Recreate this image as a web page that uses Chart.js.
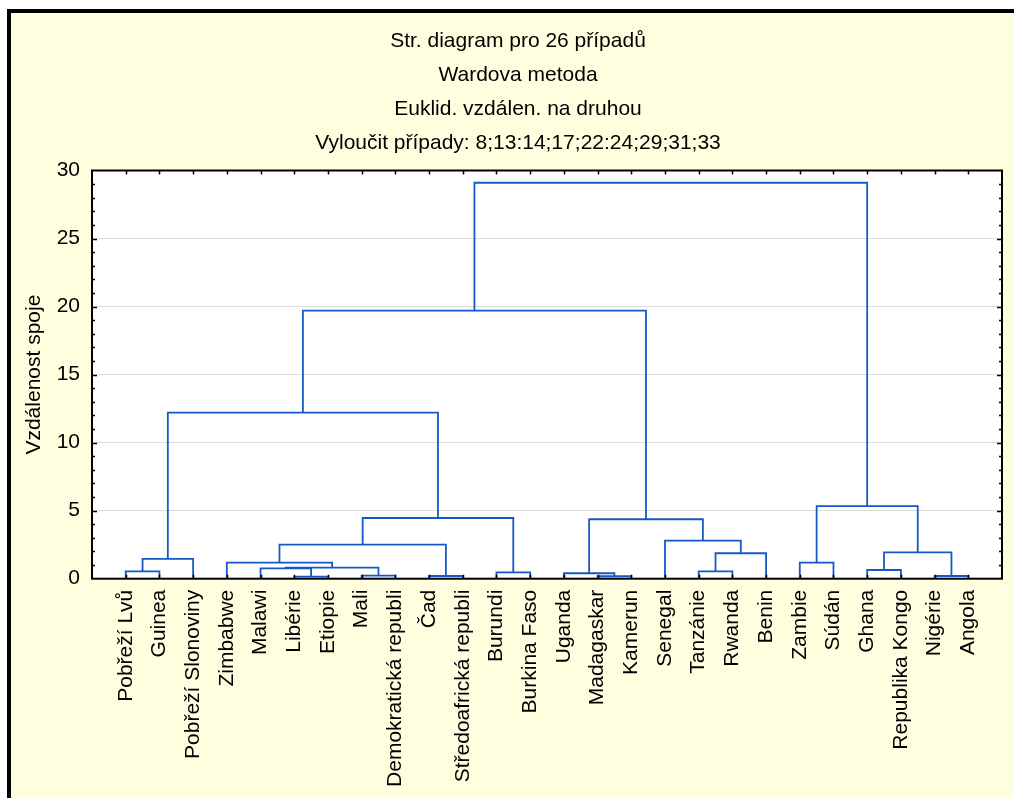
<!DOCTYPE html>
<html>
<head>
<meta charset="utf-8">
<script src="https://cdn.jsdelivr.net/npm/chart.js@4.4.1/dist/chart.umd.min.js"></script>
<style>
  body { margin: 0; background: #fff; overflow: hidden; }
  #frame { position: absolute; left: 7px; top: 9px; width: 1100px; height: 900px;
           border: 4px solid #000; background: #FFFFE0; }
  #dendro { position: absolute; left: 0; top: 0; }
</style>
</head>
<body>
<div id="frame"></div>
<canvas id="dendro" width="1014" height="798"></canvas>
<script>
const titleLines = [
    'Str. diagram pro 26 případů',
    'Wardova metoda',
    'Euklid. vzdálen. na druhou',
    'Vyloučit případy: 8;13:14;17;22:24;29;31;33'
];
const yAxisTitle = 'Vzdálenost spoje';
const yTicks = [0, 5, 10, 15, 20, 25, 30];

//leaf order as drawn left to right
const leafLabels = [
    'Pobřeží Lvů', 'Guinea', 'Pobřeží Slonoviny', 'Zimbabwe', 'Malawi', 'Libérie',
    'Etiopie', 'Mali', 'Demokratická republi', 'Čad', 'Středoafrická republi',
    'Burundi', 'Burkina Faso', 'Uganda', 'Madagaskar', 'Kamerun', 'Senegal',
    'Tanzánie', 'Rwanda', 'Benin', 'Zambie', 'Súdán', 'Ghana', 'Republika Kongo',
    'Nigérie', 'Angola'
];

//linkage: ids 0-25 are leaves, merge k gets id 26+k
const mergeLeft   = [5, 9, 14, 24, 7, 13, 11, 0, 17, 22, 4, 36, 3, 20, 33, 34, 35, 38, 16, 31, 43, 39, 40, 48, 49];
const mergeRight  = [6, 10, 15, 25, 8, 28, 12, 1, 18, 23, 26, 30, 37, 21, 2, 19, 29, 27, 41, 44, 32, 42, 46, 45, 47];
const mergeHeight = [0.15, 0.2, 0.18, 0.2, 0.22, 0.4, 0.47, 0.54, 0.54, 0.64, 0.76, 0.81, 1.18, 1.18,
                     1.45, 1.87, 1.94, 2.5, 2.8, 4.37, 4.46, 5.33, 12.2, 19.7, 29.1];

const lineColor = '#1558C8';
const fontFamily = '"Liberation Sans", Arial, sans-serif';

//build the U shaped links, cluster sits in the middle of its two children
function buildLinks(){
    let nodeX = leafLabels.map((_, i) => i + 1);
    let nodeH = leafLabels.map(() => 0);
    let links = [];

    for(let k = 0; k < mergeHeight.length; k++){
        let a = mergeLeft[k], b = mergeRight[k], h = mergeHeight[k];
        links.push([
            {x: nodeX[a], y: nodeH[a]},
            {x: nodeX[a], y: h},
            {x: nodeX[b], y: h},
            {x: nodeX[b], y: nodeH[b]}
        ]);
        nodeX.push((nodeX[a] + nodeX[b]) / 2);
        nodeH.push(h);
    }
    return links;
}

//white plot area, title text, black frame with inward ticks
const plotFrame = {
    id: 'plotFrame',
    beforeDraw(chart){
        const {ctx, chartArea: a} = chart;
        ctx.save();
        ctx.fillStyle = '#fff';
        ctx.fillRect(a.left, a.top, a.right - a.left, a.bottom - a.top);

        ctx.fillStyle = '#000';
        ctx.font = '21px ' + fontFamily;
        ctx.textAlign = 'center';
        ctx.textBaseline = 'middle';
        titleLines.forEach((t, i) => ctx.fillText(t, 518, 41 + i * 34));
        ctx.restore();
    },
    afterDraw(chart){
        const {ctx, chartArea: a, scales} = chart;
        ctx.save();
        ctx.strokeStyle = '#000';
        ctx.lineWidth = 2;
        ctx.strokeRect(a.left, a.top, a.right - a.left, a.bottom - a.top);

        ctx.lineWidth = 1.5;
        ctx.beginPath();
        for(let v = 1; v < 30; v++){
            let y = Math.round(scales.y.getPixelForValue(v)) + 0.5;
            let len = v % 5 == 0 ? 5 : 3;
            ctx.moveTo(a.left, y); ctx.lineTo(a.left + len, y);
            ctx.moveTo(a.right, y); ctx.lineTo(a.right - len, y);
        }
        for(let i = 1; i <= leafLabels.length; i++){
            let x = Math.round(scales.x.getPixelForValue(i)) + 0.5;
            ctx.moveTo(x, a.top); ctx.lineTo(x, a.top + 4);
            ctx.moveTo(x, a.bottom); ctx.lineTo(x, a.bottom - 4);
        }
        ctx.stroke();
        ctx.restore();
    }
};

const datasets = buildLinks().map(pts => ({
    data: pts,
    showLine: true,
    borderColor: lineColor,
    borderWidth: 1.8,
    pointRadius: 0,
    fill: false
}));

new Chart(document.getElementById('dendro'), {
    type: 'scatter',
    data: { datasets: datasets },
    plugins: [plotFrame],
    options: {
        responsive: false,
        animation: false,
        layout: { padding: { left: 0, right: 12, top: 170.5, bottom: 0 } },
        plugins: { legend: { display: false }, tooltip: { enabled: false } },
        scales: {
            x: {
                type: 'linear',
                min: 0,
                max: leafLabels.length + 1,
                afterBuildTicks: s => { s.ticks = leafLabels.map((_, i) => ({value: i + 1})); },
                afterFit: s => { s.height = 219.3; },
                grid: { display: false, drawTicks: false },
                border: { display: false },
                ticks: {
                    autoSkip: false,
                    minRotation: 90,
                    maxRotation: 90,
                    padding: 11,
                    color: '#000',
                    font: { family: fontFamily, size: 21 },
                    callback: v => leafLabels[v - 1] || ''
                }
            },
            y: {
                min: 0,
                max: 30,
                afterBuildTicks: s => { s.ticks = yTicks.map(v => ({value: v})); },
                afterFit: s => { s.width = 92; },
                grid: {
                    drawTicks: false,
                    lineWidth: 1,
                    color: c => (c.tick.value > 0 && c.tick.value < 30) ? '#DCDCDC' : 'rgba(0,0,0,0)'
                },
                border: { display: false },
                ticks: { padding: 12, color: '#000', font: { family: fontFamily, size: 21 } },
                title: {
                    display: true,
                    text: yAxisTitle,
                    color: '#000',
                    font: { family: fontFamily, size: 21 },
                    padding: { top: 22, bottom: 0 }
                }
            }
        }
    }
});
</script>
</body>
</html>
